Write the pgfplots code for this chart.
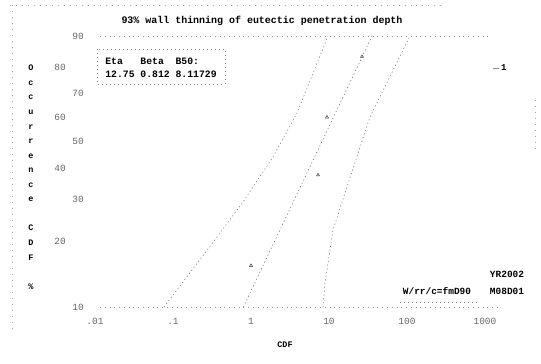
\documentclass[border=0pt]{standalone}
\usepackage{fontspec}
\setmainfont{Liberation Mono}
\setmonofont{Liberation Mono}
\usepackage{pgfplots}
\pgfplotsset{compat=1.18}
\begin{document}
\begin{tikzpicture}
\useasboundingbox (-95bp,-57bp) rectangle (446bp,307bp);
\begin{axis}[
  at={(0,0)}, anchor=south west,
  scale only axis, width=390bp, height=271bp,
  xmode=log, xmin=0.01, xmax=1000,
  ymin=-2.250367, ymax=0.834032,
  clip=false,
  axis line style={draw=none},
  tick style={draw=none},
  major tick length=0pt, minor tick length=0pt,
  minor xtick={},
  /pgf/number format/assume math mode=true,
  xtick={0.01,0.1,1,10,100,1000},
  xticklabels={.01,.1,1,10,100,1000},
  xticklabel style={anchor=north, inner sep=0pt, yshift=-11bp, font=\fontsize{9.5}{10}\selectfont, text=black!60},
  ytick={0.834032,0.185627,-0.366513,-1.030930,-2.250367},
  yticklabels={90,70,50,30,10},
  yticklabel style={anchor=east, inner sep=0pt, xshift=-11bp, font=\fontsize{9.5}{10}\selectfont, text=black!60},
  extra y ticks={0.475885,-0.087422,-0.671727,-1.499940},
  extra y tick labels={80,60,40,20},
  extra y tick style={yticklabel style={xshift=-18bp}},
  legend style={draw=none, fill=none, at={(rel axis cs:1.04,0.882)}, anchor=center,
    font=\fontsize{9}{10}\selectfont\bfseries, inner sep=1pt},
  legend image code/.code={\draw[black!45, line width=0.6pt] (0bp,0bp) -- (6bp,0bp);},
  legend cell align=left,
]
% frame lines at 90% and 10%
\addplot[black!45, line width=0.6pt, dash pattern=on 0.8pt off 4pt, forget plot] coordinates {(0.0116,0.834032) (1159,0.834032)};
\addplot[black!45, line width=0.6pt, dash pattern=on 0.8pt off 4pt, forget plot] coordinates {(0.0116,-2.250367) (1556,-2.250367)};
% median fit line
\addplot[black!55, line width=0.6pt, dash pattern=on 1.2pt off 2.6pt, forget plot] coordinates {(0.798,-2.250367) (35.6,0.834032)};
% lower bound (left)
\addplot[black!50, line width=0.6pt, dash pattern=on 1.2pt off 2.6pt, forget plot] coordinates {
 (0.0767,-2.2504) (0.1468,-1.920) (0.3665,-1.454) (0.790,-1.055) (1.915,-0.543) (3.89,-0.042) (9.71,0.834)};
% upper bound (right)
\addplot[black!50, line width=0.6pt, dash pattern=on 1.2pt off 2.6pt, forget plot] coordinates {
 (8.38,-2.2504) (8.89,-1.977) (11.25,-1.374) (17.0,-0.885) (33.5,-0.088) (109.3,0.834)};
% data points
\addplot[only marks, mark=triangle, mark size=1.8pt, black!75, mark options={line width=0.5pt}] coordinates {
 (1.0,-1.78) (7.23,-0.748) (9.43,-0.09) (26.5,0.60)};
\addlegendentry{1}
\end{axis}
% scan frame
\draw[black!35, line width=0.5pt, dash pattern=on 1pt off 5pt] (-85bp,302bp) -- (350bp,302bp);
\draw[black!35, line width=0.5pt, dash pattern=on 1pt off 5pt] (-83bp,302bp) -- (-83bp,-23bp);
\draw[black!35, line width=0.5pt, dash pattern=on 1pt off 5pt] (440bp,207bp) -- (440bp,157bp);
% title
\node[font=\fontsize{10}{12}\selectfont\bfseries] at (167bp,286bp) {93\% wall thinning of eutectic penetration depth};
% x label
\node[font=\fontsize{8.5}{10}\selectfont\bfseries] at (190bp,-38bp) {CDF};
% y label, stacked letters
\node[anchor=north, inner sep=0pt, align=center, font=\fontsize{8.5}{14.6}\selectfont\bfseries] at (-64bp,242bp)
 {O\\c\\c\\u\\r\\r\\e\\n\\c\\e\\[14.6bp]C\\D\\F\\[14.6bp]\%};
% parameter box
\draw[black!45, line width=0.5pt, dash pattern=on 1pt off 3pt] (2bp,258bp) rectangle (130bp,223bp);
\node[inner sep=0pt, font=\fontsize{9.8}{13}\selectfont\bfseries] at (66bp,239bp)
 {\begin{tabular}{@{}l@{\hspace{0.6em}}l@{\hspace{0.6em}}l@{}}Eta & Beta & B50:\\ 12.75 & 0.812 & 8.11729\end{tabular}};
% bottom right notes
\node[font=\fontsize{9.5}{11}\selectfont\bfseries] at (412bp,33bp) {YR2002};
\node[font=\fontsize{9.5}{11}\selectfont\bfseries] at (412bp,16bp) {M08D01};
\node[font=\fontsize{9.5}{11}\selectfont\bfseries] at (342bp,16bp) {W/rr/c=fmD90};
\draw[black!45, line width=0.5pt, dash pattern=on 1pt off 3pt] (305bp,5bp) -- (382bp,5bp);
\end{tikzpicture}
\end{document}
